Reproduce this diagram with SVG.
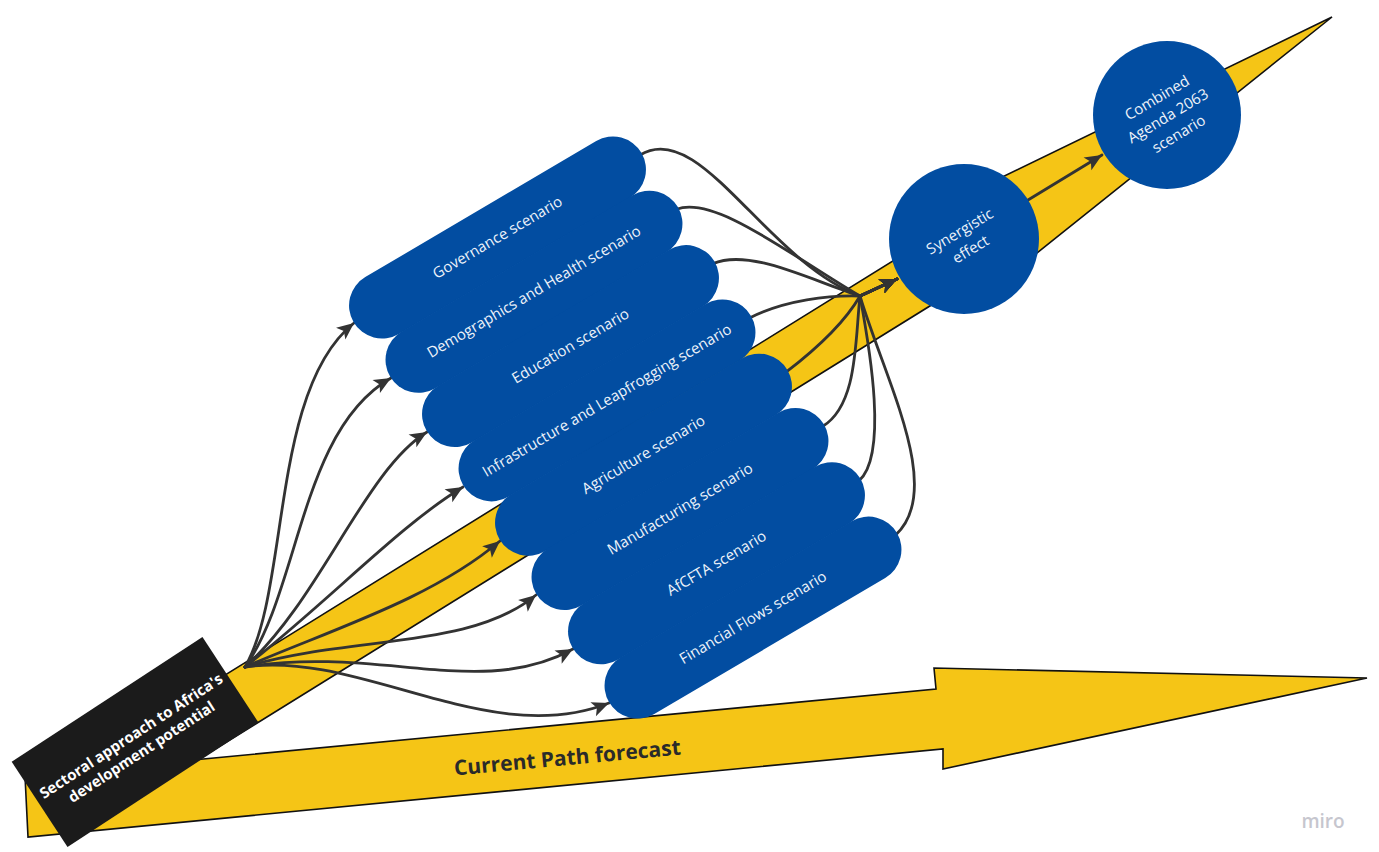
<svg xmlns="http://www.w3.org/2000/svg" width="1379" height="852" viewBox="0 0 1379 852">
<defs>
<style>
.yl{fill:#F5C516;stroke:#111;stroke-width:1.6;stroke-linejoin:miter}
.pill{fill:#024DA1}
.circ{fill:#024DA1}
.ptxt{font-family:"Open Sans","Liberation Sans",sans-serif;font-size:15px;fill:#EEF3FA;text-anchor:middle}
.btxt{font-family:"Open Sans","Liberation Sans",sans-serif;font-size:15px;font-weight:700;fill:#FFFFFF;text-anchor:middle}
.con{fill:none;stroke:#333;stroke-width:2.8;stroke-linecap:round}
</style>
<marker id="ah" markerUnits="userSpaceOnUse" markerWidth="20" markerHeight="18" refX="17" refY="8" orient="auto" overflow="visible">
<path d="M0,0.5 L17,8 L0,15.5 L4,8 z" fill="#333"/>
</marker>
</defs>
<rect width="1379" height="852" fill="#FFFFFF"/>

<g id="diagonal-arrow">
<polygon class="yl" points="140,727.8 941.7,230.7 930,212 1332,17 982.7,296.4 972.3,279.7 170.4,776.8"/>
</g>
<g id="current-path-arrow">
<polygon class="yl" points="25,776 936,689 934,668 1367,678 943,769 943,749 28,837"/>
<text x="0" y="0" transform="translate(568,765) rotate(-5.3)" font-family="'Open Sans','Liberation Sans',sans-serif" font-size="21" font-weight="700" fill="#2A2A2A" text-anchor="middle">Current Path forecast</text>
</g>

<g id="connectors">
<path class="con" marker-end="url(#ah)" d="M245,667 C290,590 270,390 354,323"/>
<path class="con" marker-end="url(#ah)" d="M245,667 C300,590 300,430 391,378"/>
<path class="con" marker-end="url(#ah)" d="M245,667 C320,600 365,470 427,432"/>
<path class="con" marker-end="url(#ah)" d="M245,667 C330,600 400,525 463,487"/>
<path class="con" marker-end="url(#ah)" d="M245,667 C330,630 430,600 500,541"/>
<path class="con" marker-end="url(#ah)" d="M245,667 C350,635 470,650 536,595"/>
<path class="con" marker-end="url(#ah)" d="M245,667 C380,645 480,700 573,649"/>
<path class="con" marker-end="url(#ah)" d="M245,667 C360,650 490,750 609,703"/>
<path class="con" marker-end="url(#ah)" d="M640,155 C700,118 765,260 860,296 L897,279"/>
<path class="con" marker-end="url(#ah)" d="M676.5,209.3 C715,195 790,255 860,296 L897,279"/>
<path class="con" marker-end="url(#ah)" d="M713,263.6 C750,248 810,280 860,296 L897,279"/>
<path class="con" marker-end="url(#ah)" d="M749.5,317.9 C785,300 830,295 860,296 L897,279"/>
<path class="con" marker-end="url(#ah)" d="M786,372.2 C815,350 845,322 860,296 L897,279"/>
<path class="con" marker-end="url(#ah)" d="M822.5,426.5 C858,405 855,340 860,296 L897,279"/>
<path class="con" marker-end="url(#ah)" d="M859,480.8 C888,455 870,350 860,296 L897,279"/>
<path class="con" marker-end="url(#ah)" d="M895.5,535.1 C945,490 885,380 860,296 L897,279"/>
<path class="con" marker-end="url(#ah)" d="M1028,200 L1102,155"/>
</g>

<g id="governance" transform="translate(497.5,237.5) rotate(-30.5)">
<rect class="pill" x="-167" y="-33" width="334" height="66" rx="33"/>
<text class="ptxt" x="0" y="5">Governance scenario</text>
</g>
<g id="demographics" transform="translate(534,291.8) rotate(-30.5)">
<rect class="pill" x="-167" y="-33" width="334" height="66" rx="33"/>
<text class="ptxt" x="0" y="5">Demographics and Health scenario</text>
</g>
<g id="education" transform="translate(570.5,346.1) rotate(-30.5)">
<rect class="pill" x="-167" y="-33" width="334" height="66" rx="33"/>
<text class="ptxt" x="0" y="5">Education scenario</text>
</g>
<g id="infrastructure" transform="translate(607,400.4) rotate(-30.5)">
<rect class="pill" x="-167" y="-33" width="334" height="66" rx="33"/>
<text class="ptxt" x="0" y="5">Infrastructure and Leapfrogging scenario</text>
</g>
<g id="agriculture" transform="translate(643.5,454.7) rotate(-30.5)">
<rect class="pill" x="-167" y="-33" width="334" height="66" rx="33"/>
<text class="ptxt" x="0" y="5">Agriculture scenario</text>
</g>
<g id="manufacturing" transform="translate(680,509) rotate(-30.5)">
<rect class="pill" x="-167" y="-33" width="334" height="66" rx="33"/>
<text class="ptxt" x="0" y="5">Manufacturing scenario</text>
</g>
<g id="afcfta" transform="translate(716.5,563.3) rotate(-30.5)">
<rect class="pill" x="-167" y="-33" width="334" height="66" rx="33"/>
<text class="ptxt" x="0" y="5">AfCFTA scenario</text>
</g>
<g id="financial" transform="translate(753,617.6) rotate(-30.5)">
<rect class="pill" x="-167" y="-33" width="334" height="66" rx="33"/>
<text class="ptxt" x="0" y="5">Financial Flows scenario</text>
</g>

<g id="synergistic">
<circle class="circ" cx="964" cy="239" r="75"/>
<g transform="translate(965,240) rotate(-31)">
<text class="ptxt" x="0" y="-5">Synergistic</text>
<text class="ptxt" x="0" y="16">effect</text>
</g>
</g>
<g id="combined">
<circle class="circ" cx="1167" cy="115" r="74"/>
<g transform="translate(1168,116) rotate(-31)">
<text class="ptxt" x="0" y="-16">Combined</text>
<text class="ptxt" x="0" y="5">Agenda 2063</text>
<text class="ptxt" x="0" y="26">scenario</text>
</g>
</g>

<g id="sectoral" transform="translate(135,742) rotate(-33.2)">
<rect x="-114" y="-51" width="228" height="102" fill="#1B1B1B"/>
<text class="btxt" x="0" y="-2">Sectoral approach to Africa's</text>
<text class="btxt" x="0" y="17">development potential</text>
</g>

<text x="1323" y="828" font-family="'Open Sans','Liberation Sans',sans-serif" font-size="19" font-weight="600" fill="#C6C6CE" text-anchor="middle">miro</text>
</svg>
